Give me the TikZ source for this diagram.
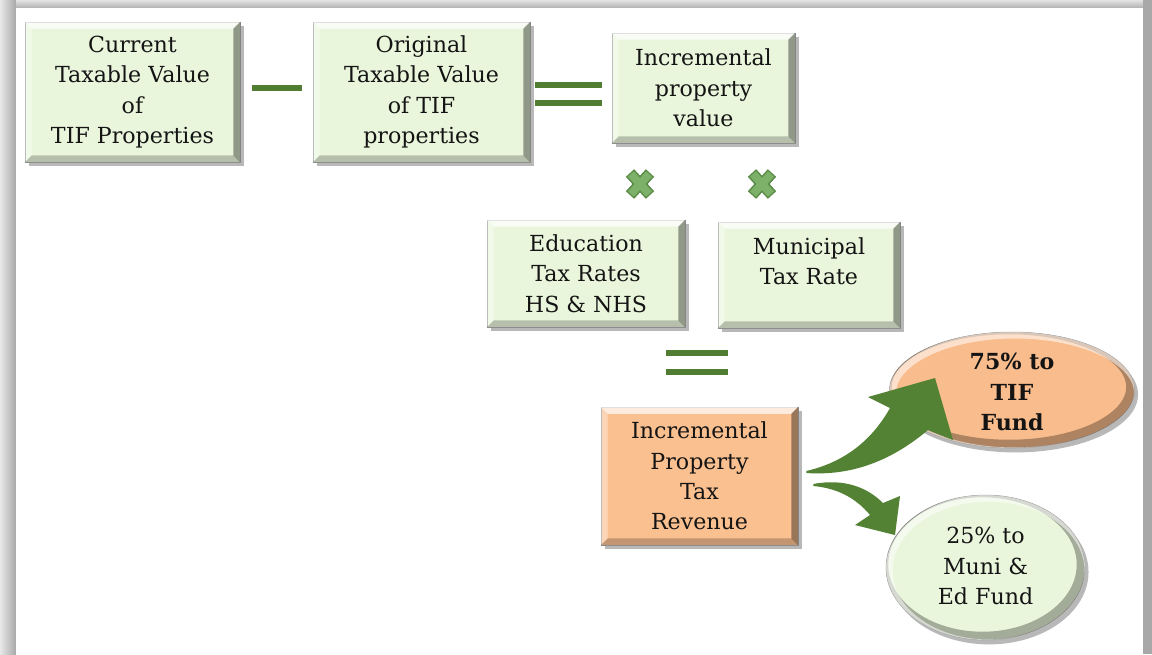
\documentclass[tikz,border=0pt]{standalone}
\usepackage{fontspec}
\setmainfont{DejaVu Serif}
\usetikzlibrary{calc,shapes.geometric,shadows}
\definecolor{boxgreen}{HTML}{EAF6DC}
\definecolor{boxorange}{HTML}{FAC090}
\definecolor{ellorange}{HTML}{F9BC8C}
\definecolor{opgreen}{HTML}{507D32}
\definecolor{arrowgreen}{HTML}{538234}
\definecolor{xgreen}{HTML}{7DB068}
\definecolor{xdark}{HTML}{5A8C47}
\definecolor{txt}{HTML}{141414}
\newcommand{\pxl}{0.02cm}
\newcommand{\txtfont}{\fontsize{12.6pt}{17.3pt}\selectfont}
\tikzset{
  softshadow/.style={drop shadow={shadow xshift=2pt, shadow yshift=-2.5pt, opacity=0.28, fill=black}},
  gbox/.style={rectangle, fill=boxgreen, draw=black!40, line width=0.3pt, align=center,
    inner sep=0pt, font=\txtfont, text=txt, softshadow},
  obox/.style={gbox, fill=boxorange},
  gell/.style={ellipse, fill=boxgreen, draw=black!35, line width=0.3pt, align=center,
    inner sep=0pt, font=\txtfont, text=txt, softshadow},
  oell/.style={gell, fill=ellorange},
  opline/.style={draw=opgreen, line width=2.9pt},
  blockarrow/.style={fill=arrowgreen, draw=none},
  xstrokedark/.style={draw=xdark, line width=6.4pt},
  xstrokelight/.style={draw=xgreen, line width=4.6pt},
}
\newcommand{\bevelrect}[1]{%
  \fill[white,opacity=.7] (#1.north west) -- (#1.north east) -- ($(#1.north east)+(-7,7)$) -- ($(#1.north west)+(7,7)$) -- cycle;
  \fill[white,opacity=.35] (#1.north west) -- ($(#1.north west)+(7,7)$) -- ($(#1.south west)+(7,-7)$) -- (#1.south west) -- cycle;
  \fill[black,opacity=.38] (#1.north east) -- (#1.south east) -- ($(#1.south east)+(-7,-7)$) -- ($(#1.north east)+(-7,7)$) -- cycle;
  \fill[black,opacity=.22] (#1.south west) -- (#1.south east) -- ($(#1.south east)+(-7,-7)$) -- ($(#1.south west)+(7,-7)$) -- cycle;
}
\newcommand{\bevelell}[3]{%
  \begin{scope}
    \clip (#1.center) ellipse [x radius=#2, y radius=#3];
    \draw[black,opacity=.30,line width=6pt] ($(#1.center)+(-3,-3)$) ellipse [x radius=#2, y radius=#3];
    \draw[white,opacity=.55,line width=4pt] ($(#1.center)+(3,3)$) ellipse [x radius=#2, y radius=#3];
  \end{scope}
}
\begin{document}
\begin{tikzpicture}[x=0.02cm,y=-0.02cm]
\useasboundingbox (0,0) rectangle (1152,654);
% frame
\fill[gray!72] (0,0) rectangle (1152,654);
\shade[left color=gray!18, right color=gray!68] (0,0) rectangle (16,654);
\shade[top color=gray!22, bottom color=gray!62] (16,0) rectangle (1143,8);
\fill[gray!68] (1143,0) rectangle (1152,654);
\fill[white] (16,8) rectangle (1143,654);

% boxes
\node[gbox, minimum width=215*\pxl, minimum height=140*\pxl] (cur) at (132.5,92) {};
\bevelrect{cur}
\node[font=\txtfont, text=txt, align=center] (curt) at (cur.center) {Current\\Taxable Value\\of\\TIF Properties};

\node[gbox, minimum width=217*\pxl, minimum height=140*\pxl] (orig) at (421.5,92) {};
\bevelrect{orig}
\node[font=\txtfont, text=txt, align=center] (origt) at (orig.center) {Original\\Taxable Value\\of TIF\\properties};

\node[gbox, minimum width=183*\pxl, minimum height=110*\pxl] (incv) at (703.5,88) {};
\bevelrect{incv}
\node[font=\txtfont, text=txt, align=center] (incvt) at (incv.center) {Incremental\\property\\value};

\node[gbox, minimum width=198*\pxl, minimum height=107*\pxl] (edu) at (586,273.5) {};
\bevelrect{edu}
\node[font=\txtfont, text=txt, align=center] (edut) at (edu.center) {Education\\Tax Rates\\HS \& NHS};

\node[gbox, minimum width=182*\pxl, minimum height=106*\pxl] (muni) at (809,275) {};
\bevelrect{muni}
\node[font=\txtfont, text=txt, align=center] (munit) at (809,261) {Municipal\\Tax Rate};

\node[obox, minimum width=197*\pxl, minimum height=138*\pxl] (rev) at (699.5,476) {};
\bevelrect{rev}
\node[font=\txtfont, text=txt, align=center] (revt) at (rev.center) {Incremental\\Property\\Tax\\Revenue};

% ellipses
\node[oell, minimum width=245*\pxl, minimum height=116*\pxl] (tif) at (1012,390) {};
\bevelell{tif}{2.45cm}{1.16cm}
\node[font=\txtfont\bfseries, text=txt, align=center] (tift) at (1012,392) {75\% to\\TIF\\Fund};

\node[gell, minimum width=199*\pxl, minimum height=145*\pxl] (me) at (985.5,567.5) {};
\bevelell{me}{1.99cm}{1.45cm}
\node[font=\txtfont, text=txt, align=center] (met) at (985.5,566) {25\% to\\Muni \&\\Ed Fund};

% operators
\coordinate (m1) at (252,88); \coordinate (m2) at (302,88);
\draw[opline] (m1) -- (m2);
\coordinate (e1a) at (535,85); \coordinate (e1b) at (602,85);
\coordinate (e2a) at (535,103); \coordinate (e2b) at (602,103);
\draw[opline] (e1a) -- (e1b);
\draw[opline] (e2a) -- (e2b);
\coordinate (f1a) at (666,353); \coordinate (f1b) at (728,353);
\coordinate (f2a) at (666,372); \coordinate (f2b) at (728,372);
\draw[opline] (f1a) -- (f1b);
\draw[opline] (f2a) -- (f2b);

\coordinate (x1) at (640,184);
\coordinate (x2) at (762,184);
\foreach \c in {x1,x2}{
  \draw[xstrokedark] ($(\c)+(-10,-11)$) -- ($(\c)+(10,11)$);
  \draw[xstrokedark] ($(\c)+(10,-11)$) -- ($(\c)+(-10,11)$);
}
\foreach \c in {x1,x2}{
  \draw[xstrokelight] ($(\c)+(-9,-10)$) -- ($(\c)+(9,10)$);
  \draw[xstrokelight] ($(\c)+(9,-10)$) -- ($(\c)+(-9,10)$);
}

% curved block arrows
\coordinate (a1tail) at ($(rev.east)+(8,-5)$);
\coordinate (a1up) at ($(tif.center)+(-122,18)$);
\coordinate (a1lb) at ($(tif.center)+(-144,7)$);
\coordinate (a1tip) at ($(tif.center)+(-77,-12)$);
\coordinate (a1rb) at ($(tif.center)+(-59,50)$);
\coordinate (a1lo) at ($(tif.center)+(-84,40)$);
\fill[blockarrow] (a1tail) .. controls (845,462) and (872,440) .. (a1up) -- (a1lb) -- (a1tip) -- (a1rb) -- (a1lo)
  .. controls (890,462) and (850,476) .. ($(a1tail)+(0,2)$) -- cycle;

\coordinate (a2tail) at ($(rev.east)+(15,8)$);
\coordinate (a2up) at ($(me.center)+(-102.5,-64.5)$);
\coordinate (a2hd) at ($(me.center)+(-85.5,-71.5)$);
\coordinate (a2tip) at ($(me.center)+(-90.5,-32.5)$);
\coordinate (a2lb) at ($(me.center)+(-130.5,-42.5)$);
\coordinate (a2lo) at ($(me.center)+(-115.5,-52.5)$);
\fill[blockarrow] (a2tail) .. controls (845,478) and (868,488) .. (a2up) -- (a2hd) -- (a2tip) -- (a2lb) -- (a2lo)
  .. controls (855,497) and (836,488) .. ($(a2tail)+(0,2)$) -- cycle;
\end{tikzpicture}
\end{document}
